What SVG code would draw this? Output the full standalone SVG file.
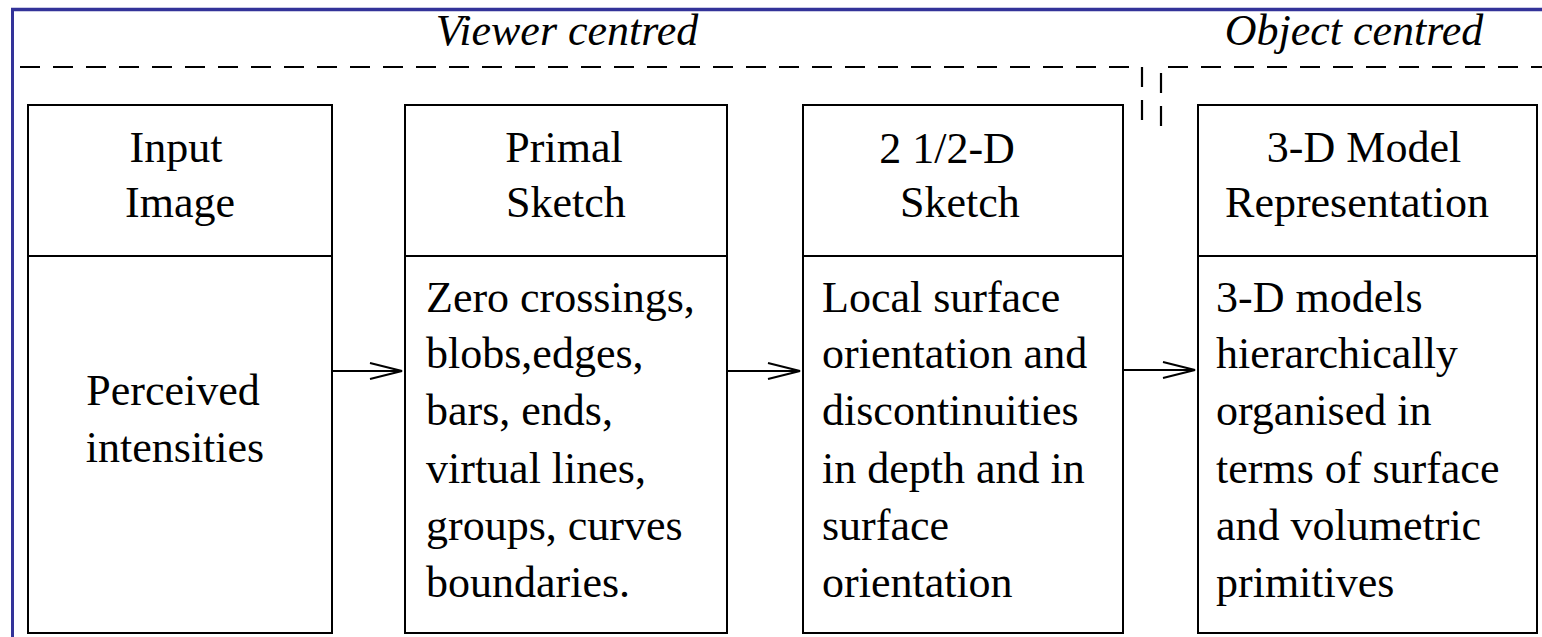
<svg xmlns="http://www.w3.org/2000/svg" width="1542" height="637" viewBox="0 0 1542 637">
<style>
.box{fill:#fff;stroke:#000;stroke-width:2}
.div{stroke:#000;stroke-width:2}
.dash{fill:none;stroke:#000;stroke-width:2.2;stroke-dasharray:20 13}
.t{font-family:"Liberation Serif","Times New Roman",serif;font-size:44px;fill:#000}
.c{text-anchor:middle}
.it{font-style:italic}
.conn{stroke:#000;stroke-width:2;fill:none}
.head{stroke:#000;stroke-width:2;fill:none}
</style>
<rect x="0" y="0" width="1542" height="637" fill="#fff"/>
<g id="frame">
<line x1="11" y1="9.5" x2="1542" y2="9.5" stroke="#333399" stroke-width="3.5"/>
<line x1="12.5" y1="8" x2="12.5" y2="637" stroke="#333399" stroke-width="3"/>
</g>
<g id="regions">
<path class="dash" d="M20,67 H1142 V126"/>
<path class="dash" d="M1161,126 V67 H1542"/>
<text class="t it c" x="567" y="45">Viewer centred</text>
<text class="t it c" x="1354" y="45">Object centred</text>
</g>
<g id="input-image">
<rect class="box" x="28" y="105" width="304" height="528"/>
<line class="div" x1="28" y1="256" x2="332" y2="256"/>
<text class="t c" x="176" y="162">Input</text>
<text class="t c" x="180" y="217">Image</text>
<text class="t c" x="173" y="405">Perceived</text>
<text class="t c" x="175" y="462">intensities</text>
</g>
<g id="primal-sketch">
<rect class="box" x="405" y="105" width="322" height="528"/>
<line class="div" x1="405" y1="256" x2="727" y2="256"/>
<text class="t c" x="564" y="162">Primal</text>
<text class="t c" x="566" y="217">Sketch</text>
<text class="t" x="426" y="312">Zero crossings,</text>
<text class="t" x="426" y="368">blobs,edges,</text>
<text class="t" x="426" y="425">bars, ends,</text>
<text class="t" x="426" y="483">virtual lines,</text>
<text class="t" x="426" y="540">groups, curves</text>
<text class="t" x="426" y="597">boundaries.</text>
</g>
<g id="two-half-d-sketch">
<rect class="box" x="803" y="105" width="320" height="528"/>
<line class="div" x1="803" y1="256" x2="1123" y2="256"/>
<text class="t c" x="947" y="163">2 1/2-D</text>
<text class="t c" x="960" y="217">Sketch</text>
<text class="t" x="822" y="312">Local surface</text>
<text class="t" x="822" y="368">orientation and</text>
<text class="t" x="822" y="425">discontinuities</text>
<text class="t" x="822" y="483">in depth and in</text>
<text class="t" x="822" y="540">surface</text>
<text class="t" x="822" y="597">orientation</text>
</g>
<g id="three-d-model">
<rect class="box" x="1198" y="105" width="339" height="528"/>
<line class="div" x1="1198" y1="256" x2="1537" y2="256"/>
<text class="t c" x="1364" y="162">3-D Model</text>
<text class="t c" x="1357" y="217">Representation</text>
<text class="t" x="1216" y="312">3-D models</text>
<text class="t" x="1216" y="368">hierarchically</text>
<text class="t" x="1216" y="425">organised in</text>
<text class="t" x="1216" y="483">terms of surface</text>
<text class="t" x="1216" y="540">and volumetric</text>
<text class="t" x="1216" y="597">primitives</text>
</g>
<g id="connectors">
<line class="conn" x1="332" y1="371" x2="402" y2="371"/>
<path class="head" d="M370,363 L402,371 L370,379"/>
<line class="conn" x1="727" y1="371" x2="800" y2="371"/>
<path class="head" d="M768,363 L800,371 L768,379"/>
<line class="conn" x1="1123" y1="370" x2="1195" y2="370"/>
<path class="head" d="M1163,362 L1195,370 L1163,378"/>
</g>
</svg>
